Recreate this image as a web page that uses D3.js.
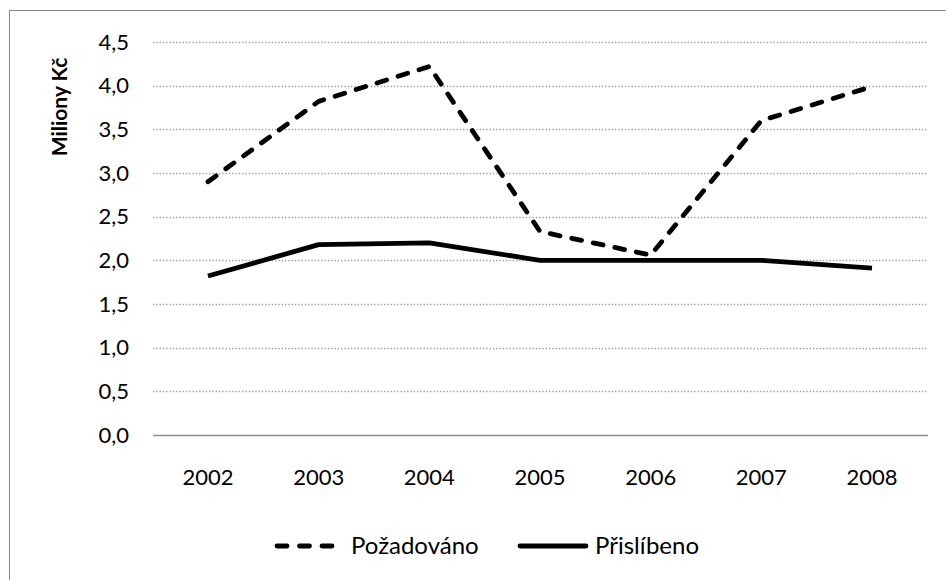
<!DOCTYPE html>
<html><head><meta charset="utf-8">
<script src="https://cdn.jsdelivr.net/npm/d3@7"></script>
<style>body{margin:0;background:#fff}svg{display:block}text{font-family:Lato,"Open Sans",sans-serif}</style>
</head><body>
<svg id="c" width="946" height="580"></svg>
<script>
const categories = ["2002","2003","2004","2005","2006","2007","2008"];
const pozadovano = [2.90, 3.82, 4.22, 2.33, 2.06, 3.60, 3.99];
const prislibeno = [1.82, 2.18, 2.20, 2.00, 2.00, 2.00, 1.91];
const yTicks = [0,0.5,1,1.5,2,2.5,3,3.5,4,4.5];
const seriesNames = ["Požadováno","Přislíbeno"];
const yTitle = "Miliony Kč";

const svg = d3.select("#c");
svg.append("rect").attr("x",9.5).attr("y",10.5).attr("width",1000).attr("height",1000)
  .attr("fill","none").attr("stroke","#888").attr("stroke-width",1);

const x = d3.scalePoint().domain(categories).range([208,872]);
const y = d3.scaleLinear().domain([0,4.5]).range([435,42]);

const fmt = d => d.toFixed(1).replace(".",",");
// gridlines
svg.append("g").selectAll("line").data(yTicks.filter(d=>d>0)).join("line")
  .attr("x1",153).attr("x2",928).attr("y1",d=>Math.round(y(d))+0.5).attr("y2",d=>Math.round(y(d))+0.5)
  .attr("stroke","#999").attr("stroke-width",1.3).attr("stroke-dasharray","1.3,2");
// x axis line
svg.append("line").attr("x1",153).attr("x2",928).attr("y1",435.5).attr("y2",435.5)
  .attr("stroke","#8c8c8c").attr("stroke-width",1.5);
// y tick labels
svg.append("g").selectAll("text").data(yTicks).join("text")
  .attr("x",129).attr("y",d=>y(d)).attr("dy","0.35em").attr("text-anchor","end")
  .attr("font-size",22).attr("fill","#000").text(fmt);
// x labels
svg.append("g").selectAll("text").data(categories).join("text")
  .attr("x",d=>x(d)).attr("y",485).attr("text-anchor","middle")
  .attr("font-size",22).attr("fill","#000").text(d=>d);
// y title
svg.append("text").attr("transform","translate(67,107) rotate(-90)")
  .attr("text-anchor","middle").attr("font-size",21).attr("font-weight","bold").text(yTitle);

const line = d3.line().x((d,i)=>x(categories[i])).y(d=>y(d));
svg.append("path").datum(pozadovano).attr("d",line).attr("fill","none")
  .attr("stroke","#000").attr("stroke-width",4.8).attr("stroke-linecap","round")
  .attr("stroke-linejoin","round").attr("stroke-dasharray","10,12");
svg.append("path").datum(prislibeno).attr("d",line).attr("fill","none")
  .attr("stroke","#000").attr("stroke-width",4.8).attr("stroke-linejoin","round");

// legend
const lg = svg.append("g");
lg.append("line").attr("x1",277).attr("x2",333).attr("y1",546).attr("y2",546)
  .attr("stroke","#000").attr("stroke-width",4.8).attr("stroke-linecap","round").attr("stroke-dasharray","10,12.5");
lg.append("text").attr("x",351).attr("y",546).attr("dy","0.35em").attr("font-size",24).text(seriesNames[0]);
lg.append("line").attr("x1",520).attr("x2",586).attr("y1",546).attr("y2",546)
  .attr("stroke","#000").attr("stroke-width",4.8).attr("stroke-linecap","round");
lg.append("text").attr("x",595).attr("y",546).attr("dy","0.35em").attr("font-size",24).text(seriesNames[1]);
</script>
</body></html>
